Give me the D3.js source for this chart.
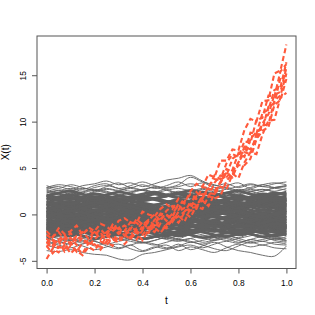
<!DOCTYPE html>
<html>
<head>
<meta charset="utf-8">
<script src="https://cdn.jsdelivr.net/npm/d3@7"></script>
<style>
body { margin: 0; background: #fff; }
svg { display: block; }
text { font-family: "Liberation Sans", Arial, sans-serif; fill: #000; }
</style>
</head>
<body>
<div id="chart"></div>
<script>
// sample grids
var grayT = [0, 0.05, 0.1, 0.15, 0.2, 0.25, 0.3, 0.35, 0.4, 0.45, 0.5, 0.55, 0.6, 0.65, 0.7, 0.75, 0.8, 0.85, 0.9, 0.95, 1];
var redT = [0, 0.025, 0.05, 0.075, 0.1, 0.125, 0.15, 0.175, 0.2, 0.225, 0.25, 0.275, 0.3, 0.325, 0.35, 0.375, 0.4, 0.425, 0.45, 0.475, 0.5,
  0.525, 0.55, 0.575, 0.6, 0.625, 0.65, 0.675, 0.7, 0.725, 0.75, 0.775, 0.8, 0.825, 0.85, 0.875, 0.9, 0.925, 0.95, 0.975, 1];

// gray curves
var grayCurves = [
  [-2.7,-2.4,-2.6,-2.9,-2.7,-2.4,-2.6,-2.9,-3.1,-2.8,-2.5,-2.7,-3.0,-2.8,-2.5,-2.3,-2.6,-2.9,-2.7,-2.5,-2.8],
  [-2.3,-2.6,-2.8,-2.5,-2.2,-2.4,-2.7,-2.5,-2.2,-2.4,-2.7,-2.9,-2.6,-2.3,-2.5,-2.8,-2.6,-2.3,-2.1,-2.4,-2.6],
  [-2.0,-2.3,-2.1,-1.8,-2.1,-2.4,-2.2,-1.9,-2.1,-2.4,-2.6,-2.3,-2.0,-2.2,-2.5,-2.3,-2.0,-2.2,-2.5,-2.7,-2.4],
  [-2.5,-2.2,-2.0,-2.3,-2.6,-2.4,-2.1,-2.3,-2.6,-2.4,-2.1,-1.9,-2.2,-2.5,-2.3,-2.0,-1.8,-2.1,-2.4,-2.2,-1.9],
  [-1.8,-2.1,-2.3,-2.0,-1.7,-1.9,-2.2,-2.4,-2.1,-1.8,-2.0,-2.3,-2.1,-1.8,-1.6,-1.9,-2.2,-2.0,-1.7,-1.9,-2.2],
  [-2.1,-1.8,-1.6,-1.9,-2.2,-2.0,-1.7,-1.5,-1.8,-2.1,-2.3,-2.0,-1.7,-1.9,-2.2,-2.4,-2.1,-1.8,-2.0,-2.3,-2.1],
  [-1.5,-1.8,-2.0,-1.7,-1.5,-1.8,-2.1,-1.9,-1.6,-1.4,-1.7,-2.0,-1.8,-1.5,-1.7,-2.0,-1.8,-1.5,-1.3,-1.6,-1.9],
  [-1.9,-1.6,-1.4,-1.7,-1.9,-1.6,-1.3,-1.5,-1.8,-2.0,-1.7,-1.4,-1.2,-1.5,-1.8,-1.6,-1.3,-1.6,-1.9,-1.7,-1.4],
  [-1.3,-1.6,-1.8,-1.5,-1.2,-1.4,-1.7,-1.5,-1.2,-1.0,-1.3,-1.6,-1.8,-1.5,-1.2,-1.4,-1.7,-1.9,-1.6,-1.3,-1.5],
  [-1.6,-1.3,-1.1,-1.4,-1.7,-1.5,-1.2,-1.0,-1.3,-1.6,-1.4,-1.1,-1.3,-1.6,-1.8,-1.5,-1.2,-1.0,-1.3,-1.6,-1.4],
  [-1.0,-1.3,-1.5,-1.2,-0.9,-1.1,-1.4,-1.6,-1.3,-1.0,-1.2,-1.5,-1.3,-1.0,-0.8,-1.1,-1.4,-1.2,-0.9,-1.1,-1.4],
  [-1.2,-0.9,-0.7,-1.0,-1.3,-1.1,-0.8,-1.0,-1.3,-1.5,-1.2,-0.9,-0.7,-1.0,-1.3,-1.1,-0.8,-1.0,-1.3,-1.5,-1.2],
  [-0.8,-1.1,-1.3,-1.0,-0.7,-0.9,-1.2,-1.0,-0.7,-0.5,-0.8,-1.1,-0.9,-0.6,-0.8,-1.1,-1.3,-1.0,-0.7,-0.9,-1.2],
  [-0.9,-0.6,-0.4,-0.7,-1.0,-0.8,-0.5,-0.7,-1.0,-0.8,-0.5,-0.3,-0.6,-0.9,-0.7,-0.4,-0.6,-0.9,-1.1,-0.8,-0.5],
  [-0.5,-0.8,-1.0,-0.7,-0.4,-0.6,-0.9,-0.7,-0.4,-0.6,-0.9,-1.1,-0.8,-0.5,-0.3,-0.6,-0.9,-0.7,-0.4,-0.6,-0.9],
  [-0.6,-0.3,-0.1,-0.4,-0.7,-0.5,-0.2,-0.4,-0.7,-0.9,-0.6,-0.3,-0.5,-0.8,-0.6,-0.3,-0.1,-0.4,-0.7,-0.5,-0.2],
  [-0.2,-0.5,-0.7,-0.4,-0.1,-0.3,-0.6,-0.4,-0.1,0.1,-0.2,-0.5,-0.3,0.0,-0.2,-0.5,-0.7,-0.4,-0.1,-0.3,-0.6],
  [-0.3,0.0,0.2,-0.1,-0.4,-0.2,0.1,-0.1,-0.4,-0.2,0.1,0.3,0.0,-0.3,-0.1,0.2,0.0,-0.3,-0.5,-0.2,0.1],
  [0.1,-0.2,-0.4,-0.1,0.2,0.0,-0.3,-0.1,0.2,0.0,-0.3,-0.5,-0.2,0.1,0.3,0.0,-0.3,-0.1,0.2,0.0,-0.3],
  [0.0,0.3,0.5,0.2,-0.1,0.1,0.4,0.2,-0.1,-0.3,0.0,0.3,0.1,-0.2,0.0,0.3,0.5,0.2,-0.1,0.1,0.4],
  [0.4,0.1,-0.1,0.2,0.5,0.3,0.0,0.2,0.5,0.7,0.4,0.1,0.3,0.6,0.4,0.1,-0.1,0.2,0.5,0.3,0.0],
  [0.3,0.6,0.8,0.5,0.2,0.4,0.7,0.5,0.2,0.4,0.7,0.9,0.6,0.3,0.1,0.4,0.7,0.5,0.2,0.4,0.7],
  [0.8,0.5,0.3,0.6,0.9,0.7,0.4,0.6,0.9,0.7,0.4,0.2,0.5,0.8,0.6,0.3,0.5,0.8,1.0,0.7,0.4],
  [0.6,0.9,1.1,0.8,0.5,0.7,1.0,0.8,0.5,0.3,0.6,0.9,0.7,0.4,0.6,0.9,1.1,0.8,0.5,0.7,1.0],
  [1.1,0.8,0.6,0.9,1.2,1.0,0.7,0.9,1.2,1.0,0.7,0.5,0.8,1.1,0.9,0.6,0.8,1.1,1.3,1.0,0.7],
  [0.9,1.2,1.4,1.1,0.8,1.0,1.3,1.1,0.8,1.0,1.3,1.5,1.2,0.9,0.7,1.0,1.3,1.1,0.8,1.0,1.3],
  [1.4,1.1,0.9,1.2,1.5,1.3,1.0,1.2,1.5,1.7,1.4,1.1,1.3,1.6,1.4,1.1,0.9,1.2,1.5,1.3,1.0],
  [1.3,1.6,1.8,1.5,1.2,1.4,1.7,1.5,1.2,1.0,1.3,1.6,1.4,1.1,1.3,1.6,1.8,1.5,1.2,1.4,1.7],
  [1.8,1.5,1.3,1.6,1.9,1.7,1.4,1.6,1.9,1.7,1.4,1.2,1.5,1.8,1.6,1.3,1.5,1.8,2.0,1.7,1.4],
  [1.6,1.9,2.1,1.8,1.5,1.7,2.0,1.8,1.5,1.7,2.0,2.2,1.9,1.6,1.4,1.7,2.0,1.8,1.5,1.7,2.0],
  [2.1,1.8,1.6,1.9,2.2,2.0,1.7,1.9,2.2,2.4,2.1,1.8,2.0,2.3,2.1,1.8,1.6,1.9,2.2,2.0,1.7],
  [2.0,2.3,2.5,2.2,1.9,2.1,2.4,2.2,1.9,1.7,2.0,2.3,2.1,1.8,2.0,2.3,2.5,2.2,1.9,2.1,2.4],
  [2.5,2.2,2.0,2.3,2.6,2.4,2.1,2.3,2.6,2.4,2.1,1.9,2.2,2.5,2.3,2.0,2.2,2.5,2.7,2.4,2.1],
  [2.3,2.6,2.4,2.1,2.4,2.7,2.5,2.2,2.0,2.3,2.6,2.8,2.5,2.2,2.4,2.7,2.5,2.2,2.5,2.8,2.6],
  [2.6,2.3,2.5,2.8,2.6,2.3,2.1,2.4,2.7,2.9,2.6,2.3,2.5,2.8,2.6,2.3,2.1,2.4,2.7,2.5,2.8],
  [-1.5,-1.2,-0.8,-0.5,-0.6,-0.3,0.1,0.4,0.2,0.6,0.9,0.7,1.0,1.3,1.1,0.8,1.0,1.4,1.2,0.9,1.1],
  [1.2,0.9,1.1,0.7,0.3,0.5,0.1,-0.3,-0.1,-0.5,-0.8,-0.6,-1.0,-1.3,-1.1,-1.4,-1.7,-1.5,-1.2,-1.4,-1.7],
  [-0.4,-0.1,0.3,0.6,1.0,1.3,1.1,1.5,1.8,1.6,1.3,0.9,0.6,0.2,-0.1,-0.4,-0.2,-0.6,-0.9,-0.7,-1.0],
  [0.7,0.4,0.0,-0.4,-0.7,-1.1,-0.9,-1.3,-1.6,-1.4,-1.0,-0.7,-0.3,0.1,0.4,0.8,0.6,1.0,1.3,1.1,0.8],
  [-2.2,-1.9,-1.5,-1.7,-1.3,-1.0,-1.2,-0.8,-0.5,-0.7,-0.3,0.0,-0.2,0.2,0.5,0.3,0.7,1.0,0.8,1.2,1.5],
  [2.0,1.7,1.9,1.5,1.2,1.4,1.0,0.7,0.9,0.5,0.2,0.4,0.0,-0.3,-0.1,-0.5,-0.8,-0.6,-1.0,-1.3,-1.1],
  [0.2,0.6,0.9,0.7,1.1,1.4,1.2,1.6,1.9,2.2,2.0,2.3,2.6,2.4,2.1,2.3,1.9,1.6,1.8,1.4,1.1],
  [-0.9,-1.2,-1.6,-1.4,-1.8,-2.1,-1.9,-2.3,-2.6,-2.4,-2.1,-2.3,-1.9,-1.6,-1.8,-1.4,-1.1,-1.3,-0.9,-0.6,-0.8],
  [1.6,1.9,2.3,2.1,2.5,2.8,2.6,2.9,2.6,2.2,1.9,2.1,1.7,1.4,1.6,1.2,0.9,1.1,0.7,0.4,0.6],
  [-1.7,-1.4,-1.6,-1.2,-0.9,-1.1,-0.7,-0.4,-0.6,-0.2,0.1,-0.1,0.3,0.6,0.4,0.8,1.1,0.9,1.3,1.6,1.4],
  [0.0,-0.3,-0.6,-0.4,-0.8,-1.1,-0.9,-0.5,-0.2,-0.4,0.0,0.3,0.1,0.5,0.8,0.6,0.2,-0.1,0.1,-0.3,-0.6],
  [2.4,2.1,2.3,1.9,1.6,1.8,1.4,1.7,2.0,1.8,2.2,2.5,2.3,2.7,2.4,2.0,2.2,1.8,2.1,2.4,2.2],
  [-2.4,-2.1,-2.3,-1.9,-2.2,-2.5,-2.3,-2.7,-3.0,-2.8,-2.4,-2.6,-2.2,-2.5,-2.8,-2.6,-3.0,-2.7,-2.4,-2.6,-2.9],
  [0.5,0.8,0.6,1.0,1.3,1.1,0.7,0.4,0.6,0.2,-0.1,0.1,0.5,0.8,0.6,1.0,1.3,1.1,1.5,1.8,1.6],
  [-0.6,-0.9,-0.7,-1.1,-1.4,-1.2,-0.8,-0.5,-0.7,-0.3,0.0,-0.2,-0.6,-0.9,-0.7,-1.1,-1.4,-1.2,-1.6,-1.9,-1.7],
  [1.0,1.3,1.1,1.5,1.8,1.6,1.2,0.9,1.1,0.7,0.4,0.6,1.0,1.3,1.1,1.5,1.8,1.6,2.0,2.3,2.1],
  [-1.4,-1.1,-1.3,-0.9,-0.6,-0.8,-1.2,-1.5,-1.3,-1.7,-2.0,-1.8,-1.4,-1.1,-1.3,-0.9,-0.6,-0.8,-0.4,-0.1,-0.3],
  [2.7,2.4,2.6,2.2,1.9,2.1,2.5,2.8,2.6,3.0,2.7,2.3,2.5,2.1,1.8,2.0,2.4,2.7,2.5,2.9,3.1],
  [-2.6,-2.9,-2.7,-3.1,-2.8,-2.4,-2.6,-2.2,-1.9,-2.1,-2.5,-2.8,-2.6,-3.0,-2.7,-2.3,-2.5,-2.1,-2.4,-2.8,-3.0],
  [0.3,0.0,-0.2,0.1,0.4,0.8,1.1,0.9,0.5,0.2,0.4,0.8,1.1,0.9,0.5,0.2,0.4,0.0,-0.3,-0.1,0.3],
  [-0.2,0.1,0.4,0.2,-0.2,-0.5,-0.3,0.1,0.4,0.2,-0.2,-0.5,-0.3,-0.7,-1.0,-0.8,-0.4,-0.1,-0.3,0.1,0.4],
  [1.9,2.2,2.0,2.4,2.7,2.5,2.1,1.8,2.0,1.6,1.3,1.5,1.9,2.2,2.0,2.4,2.7,2.5,2.1,1.8,2.0],
  [-1.1,-1.4,-1.2,-1.6,-1.9,-1.7,-1.3,-1.0,-1.2,-0.8,-0.5,-0.7,-1.1,-1.4,-1.2,-1.6,-1.9,-1.7,-1.3,-1.0,-1.2],
  [2.9,2.6,2.8,2.5,2.9,3.1,2.8,2.5,2.7,2.4,2.8,3.0,3.3,3.0,2.7,2.9,2.6,2.9,3.2,2.9,3.0],
  [-2.9,-3.1,-2.8,-2.6,-2.9,-3.2,-2.9,-2.7,-3.0,-3.3,-3.0,-2.7,-2.9,-3.2,-2.8,-2.5,-2.8,-3.1,-2.9,-3.2,-3.3],
  [-3.9,-4.0,-3.8,-4.1,-4.3,-4.4,-4.8,-4.9,-4.3,-4.1,-3.8,-3.5,-3.3,-3.6,-3.2,-2.9,-3.1,-2.7,-2.9,-2.6,-2.8],
  [-2.5,-2.9,-3.2,-2.8,-3.4,-3.1,-3.6,-3.3,-3.9,-3.5,-3.7,-3.2,-3.8,-3.4,-3.0,-3.5,-3.9,-4.1,-4.4,-4.5,-3.4],
  [-3.3,-3.6,-3.1,-3.4,-3.8,-3.5,-3.2,-3.7,-4.0,-3.6,-3.3,-3.9,-3.5,-3.8,-4.1,-3.6,-3.2,-3.5,-3.3,-3.6,-3.7],
  [-3.0,-3.3,-3.6,-3.2,-2.9,-3.4,-3.7,-3.3,-3.0,-3.2,-3.6,-3.4,-3.0,-3.3,-3.7,-3.9,-3.4,-3.0,-3.3,-3.0,-3.2],
  [2.8,3.0,2.7,3.1,3.3,3.6,3.2,3.4,3.0,3.3,3.7,3.9,4.2,3.6,3.1,3.3,2.9,3.2,3.0,3.3,3.5],
  [3.1,2.8,3.2,2.9,2.6,3.0,3.4,2.9,3.2,2.8,3.1,3.5,3.0,3.4,2.9,3.1,3.4,2.8,3.2,3.4,3.2],
  [2.9,3.2,3.0,2.7,3.1,3.3,2.8,3.1,3.5,3.1,2.9,3.2,4.0,3.5,3.2,2.8,3.0,3.3,3.0,2.9,3.1]
];

// red dashed curves
var redCurves = [
  [-1.8,-2.5,-1.5,-2.1,-1.8,-1.2,-2.2,-1.4,-1.8,-1.0,-1.3,-1.8,-0.7,-0.4,-0.9,-0.9,0.3,0.0,-0.2,0.6,1.1,0.6,1.7,1.2,2.5,3.3,3.0,4.3,4.0,5.8,5.8,7.0,6.9,9.1,10.3,10.0,12.2,12.3,15.2,15.5,18.3],
  [-3.1,-2.4,-1.9,-2.7,-2.0,-2.9,-2.1,-1.6,-2.2,-1.6,-2.3,-1.1,-1.6,-1.2,-1.6,-0.5,-1.1,-0.6,0.0,-0.7,0.4,0.9,0.5,1.4,2.2,1.7,2.9,2.9,4.2,3.8,5.5,6.5,6.2,7.9,7.7,10.2,10.4,12.8,12.7,15.4,16.2],
  [-2.6,-3.3,-2.7,-2.2,-3.3,-2.4,-2.8,-3.1,-1.9,-2.2,-2.6,-1.8,-1.3,-2.3,-1.4,-1.7,-0.8,-1.6,-0.6,0.0,-0.7,0.1,1.0,0.4,0.6,2.0,2.2,1.9,3.4,4.2,4.0,4.8,6.6,6.2,8.1,8.9,9.2,11.6,12.0,14.7,15.0],
  [-3.5,-2.8,-3.6,-3.0,-2.5,-3.3,-2.5,-3.3,-2.7,-2.0,-2.7,-2.9,-1.9,-1.7,-2.5,-1.5,-1.6,-0.8,-1.5,-0.5,0.0,-0.8,0.3,0.7,0.4,0.6,2.1,2.3,2.2,3.4,4.5,4.0,5.6,6.7,6.5,8.7,9.6,9.7,12.3,12.8,15.2],
  [-3.4,-4.2,-3.5,-3.7,-3.0,-4.0,-3.1,-2.8,-3.4,-3.5,-2.3,-2.7,-3.0,-2.2,-1.8,-2.7,-1.7,-2.0,-0.9,-1.4,-1.5,-0.4,-0.1,-0.8,0.7,0.8,0.6,2.0,1.7,2.0,3.6,4.4,3.9,5.6,6.7,6.5,8.6,10.1,10.2,12.6,13.1],
  [-2.2,-2.7,-3.1,-2.3,-3.2,-2.3,-1.9,-2.6,-1.8,-2.7,-1.9,-1.4,-2.1,-1.8,-0.8,-0.9,-1.5,-0.6,-1.2,0.1,-0.1,-0.3,1.2,1.3,1.0,2.4,1.7,3.0,3.8,3.7,4.2,6.0,6.5,6.7,8.8,8.7,10.9,11.3,13.4,13.7,16.4],
  [-4.8,-3.7,-4.1,-3.3,-4.2,-3.6,-4.2,-3.1,-3.2,-3.8,-2.9,-3.4,-2.3,-3.2,-2.5,-1.9,-2.8,-1.7,-1.4,-2.0,-1.1,-0.4,-0.9,0.2,-0.3,0.9,1.5,0.9,2.2,3.0,2.7,4.3,5.3,5.3,6.0,8.1,9.0,9.4,11.8,12.3,14.6],
  [-3.0,-3.6,-2.9,-4.0,-3.4,-3.9,-4.4,-3.5,-3.9,-2.9,-3.3,-2.6,-2.9,-2.2,-2.7,-1.8,-2.2,-1.4,-1.9,-1.0,-1.4,-0.6,-0.2,0.3,1.3,1.0,1.9,2.8,2.5,3.5,4.9,4.6,5.6,7.3,7.0,8.2,9.8,10.8,12.9,13.2,15.8]
];

var xTicks = [0, 0.2, 0.4, 0.6, 0.8, 1];
var xTickLabels = ["0.0", "0.2", "0.4", "0.6", "0.8", "1.0"];
var yTicks = [-5, 0, 5, 10, 15];
var yTickLabels = ["-5", "0", "5", "10", "15"];

var W = 315, H = 315;
var plotLeft = 37, plotRight = 296, plotTop = 36, plotBottom = 268.5;

var svg = d3.select('#chart').append('svg')
  .attr('width', W)
  .attr('height', H);

svg.append('rect')
  .attr('width', W).attr('height', H).attr('fill', '#fff');

// R style 4% padding on both axes
var xExt = d3.extent(grayT.concat(redT));
var xPad = (xExt[1] - xExt[0]) * 0.04;
var yExt = d3.extent(d3.merge(grayCurves.concat(redCurves)));
var yPad = (yExt[1] - yExt[0]) * 0.04;

var x = d3.scaleLinear().domain([xExt[0] - xPad, xExt[1] + xPad]).range([plotLeft, plotRight]);
var y = d3.scaleLinear().domain([yExt[0] - yPad, yExt[1] + yPad]).range([plotBottom, plotTop]);

svg.append('clipPath').attr('id', 'plotclip')
  .append('rect')
  .attr('x', plotLeft).attr('y', plotTop)
  .attr('width', plotRight - plotLeft).attr('height', plotBottom - plotTop);

var plot = svg.append('g').attr('clip-path', 'url(#plotclip)');

var grayLine = d3.line()
  .x(function(d, i) { return x(grayT[i]); })
  .y(function(d) { return y(d); })
  .curve(d3.curveCatmullRom.alpha(0.5));

var redLine = d3.line()
  .x(function(d, i) { return x(redT[i]); })
  .y(function(d) { return y(d); });

// the inner curves overlap into the solid core of the band,
// the outer ones stay thin like single R lines
plot.selectAll('path.gray')
  .data(grayCurves)
  .enter().append('path')
  .attr('class', 'gray')
  .attr('d', grayLine)
  .attr('fill', 'none')
  .attr('stroke', '#606060')
  .attr('stroke-width', function(d) {
    return d3.max(d, Math.abs) < 2.65 ? 2.8 : 0.9;
  });

plot.selectAll('path.red')
  .data(redCurves)
  .enter().append('path')
  .attr('class', 'red')
  .attr('d', redLine)
  .attr('fill', 'none')
  .attr('stroke', '#ff5a3c')
  .attr('stroke-width', 2.1)
  .attr('stroke-dasharray', '5,3');

// box
svg.append('rect')
  .attr('x', plotLeft).attr('y', plotTop)
  .attr('width', plotRight - plotLeft).attr('height', plotBottom - plotTop)
  .attr('fill', 'none')
  .attr('stroke', '#555')
  .attr('stroke-width', 1);

// x axis
var xAxis = d3.axisBottom(x)
  .tickValues(xTicks)
  .tickSize(5)
  .tickFormat(function(d, i) { return xTickLabels[i]; });

var gx = svg.append('g')
  .attr('transform', 'translate(0,' + plotBottom + ')')
  .call(xAxis);
gx.select('.domain').remove();
gx.selectAll('line').attr('stroke', '#555');
gx.selectAll('text')
  .attr('y', 17).attr('dy', null)
  .style('font-size', '8.4px')
  .style('font-family', '"Liberation Sans", Arial, sans-serif');

// y axis
var yAxis = d3.axisLeft(y)
  .tickValues(yTicks)
  .tickSize(5)
  .tickFormat(function(d, i) { return yTickLabels[i]; });

var gy = svg.append('g')
  .attr('transform', 'translate(' + plotLeft + ',0)')
  .call(yAxis);
gy.select('.domain').remove();
gy.selectAll('line').attr('stroke', '#555');
gy.selectAll('text')
  .attr('x', 0).attr('y', -11.5).attr('dy', null)
  .attr('transform', 'rotate(-90)')
  .attr('text-anchor', 'middle')
  .style('font-size', '8.4px')
  .style('font-family', '"Liberation Sans", Arial, sans-serif');

// axis titles
svg.append('text')
  .attr('x', (plotLeft + plotRight) / 2).attr('y', 304)
  .attr('text-anchor', 'middle')
  .style('font-size', '10px')
  .text('t');

svg.append('text')
  .attr('transform', 'translate(9,' + ((plotTop + plotBottom) / 2) + ') rotate(-90)')
  .attr('text-anchor', 'middle')
  .style('font-size', '10px')
  .text('X(t)');
</script>
</body>
</html>
